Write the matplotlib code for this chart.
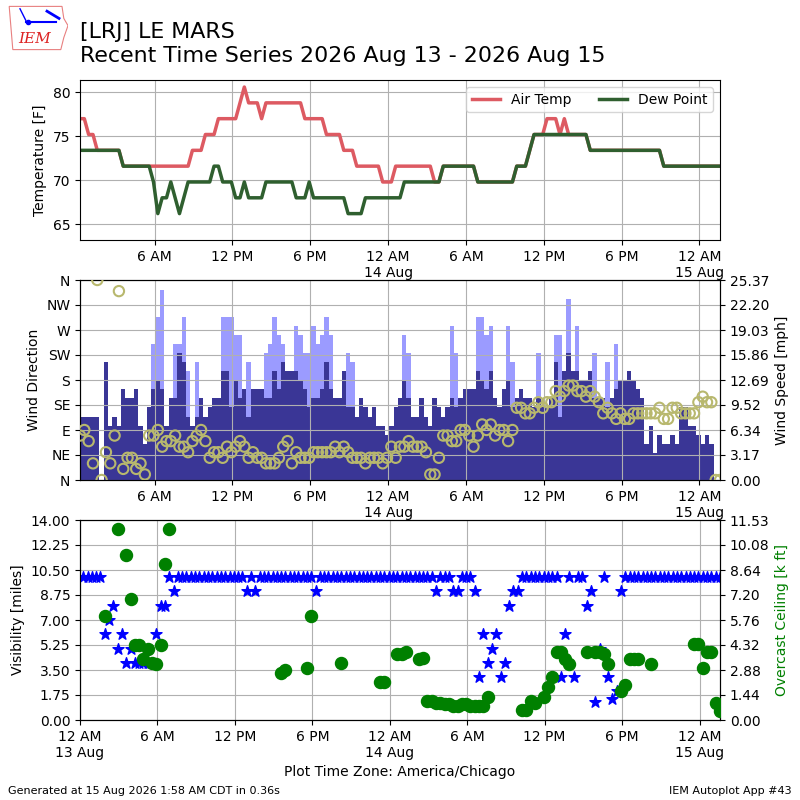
import numpy as np
import pandas as pd
import matplotlib
matplotlib.use("Agg")
import matplotlib.pyplot as plt
import matplotlib.dates as mdates
from matplotlib.ticker import FuncFormatter
from matplotlib.patches import Polygon

# observations every 20 minutes (local time, America/Chicago)
obs_start = "2026-08-13 00:15"
obs_count = 149
valid = pd.date_range(obs_start, periods=obs_count, freq="20min")

# air temperature [F]
tmpf = [77, 77, 75.2, 75.2, 73.4, 73.4, 73.4, 73.4, 73.4, 73.4, 71.6, 71.6,
        71.6, 71.6, 71.6, 71.6, 71.6, 71.6, 71.6, 71.6, 71.6, 71.6, 71.6, 71.6,
        71.6, 71.6, 73.4, 73.4, 73.4, 75.2, 75.2, 75.2, 77, 77, 77, 77,
        77, 78.8, 80.6, 78.8, 78.8, 78.8, 77, 78.8, 78.8, 78.8, 78.8, 78.8,
        78.8, 78.8, 78.8, 78.8, 77, 77, 77, 77, 77, 75.2, 75.2, 75.2,
        75.2, 73.4, 73.4, 73.4, 71.6, 71.6, 71.6, 71.6, 71.6, 71.6, 69.8, 69.8,
        69.8, 71.6, 71.6, 71.6, 71.6, 71.6, 71.6, 71.6, 71.6, 71.6, 69.8, 69.8,
        71.6, 71.6, 71.6, 71.6, 71.6, 71.6, 71.6, 71.6, 69.8, 69.8, 69.8, 69.8,
        69.8, 69.8, 69.8, 69.8, 69.8, 71.6, 71.6, 71.6, 73.4, 75.2, 75.2, 75.2,
        77, 77, 77, 75.2, 77, 75.2, 75.2, 75.2, 75.2, 75.2, 73.4, 73.4,
        73.4, 73.4, 73.4, 73.4, 73.4, 73.4, 73.4, 73.4, 73.4, 73.4, 73.4, 73.4,
        73.4, 73.4, 73.4, 71.6, 71.6, 71.6, 71.6, 71.6, 71.6, 71.6, 71.6, 71.6,
        71.6, 71.6, 71.6, 71.6, 71.6]

# dew point [F]
dwpf = [73.4, 73.4, 73.4, 73.4, 73.4, 73.4, 73.4, 73.4, 73.4, 73.4, 71.6, 71.6,
        71.6, 71.6, 71.6, 71.6, 71.6, 69.8, 66.2, 68, 68, 69.8, 68, 66.2,
        68, 69.8, 69.8, 69.8, 69.8, 69.8, 69.8, 71.6, 71.6, 69.8, 69.8, 69.8,
        68, 68, 69.8, 68, 68, 68, 68, 69.8, 69.8, 69.8, 69.8, 69.8,
        69.8, 69.8, 68, 68, 68, 69.8, 68, 68, 68, 68, 68, 68,
        68, 68, 66.2, 66.2, 66.2, 66.2, 68, 68, 68, 68, 68, 68,
        68, 68, 68, 69.8, 69.8, 69.8, 69.8, 69.8, 69.8, 69.8, 69.8, 69.8,
        71.6, 71.6, 71.6, 71.6, 71.6, 71.6, 71.6, 71.6, 69.8, 69.8, 69.8, 69.8,
        69.8, 69.8, 69.8, 69.8, 69.8, 71.6, 71.6, 71.6, 73.4, 75.2, 75.2, 75.2,
        75.2, 75.2, 75.2, 75.2, 75.2, 75.2, 75.2, 75.2, 75.2, 75.2, 73.4, 73.4,
        73.4, 73.4, 73.4, 73.4, 73.4, 73.4, 73.4, 73.4, 73.4, 73.4, 73.4, 73.4,
        73.4, 73.4, 73.4, 71.6, 71.6, 71.6, 71.6, 71.6, 71.6, 71.6, 71.6, 71.6,
        71.6, 71.6, 71.6, 71.6, 71.6]

# wind speed [kt]
sknt = [7, 7, 7, 7, 7, 0, 13, 6, 7, 6, 10, 9,
        9, 10, 6, 4, 8, 10, 11, 10, 6, 9, 9, 14,
        13, 7, 6, 7, 9, 7, 8, 9, 9, 12, 12, 8,
        11, 9, 10, 7, 10, 10, 10, 9, 9, 12, 10, 13,
        12, 12, 12, 11, 10, 8, 9, 9, 10, 13, 10, 9,
        9, 12, 8, 8, 7, 9, 8, 7, 8, 6, 6, 5,
        6, 8, 9, 11, 9, 7, 7, 9, 7, 6, 9, 8,
        7, 8, 9, 8, 9, 10, 10, 10, 12, 11, 10, 12,
        9, 8, 10, 11, 8, 9, 10, 9, 9, 8, 9, 8,
        8, 9, 13, 7, 12, 14, 12, 12, 11, 11, 12, 9,
        9, 9, 8, 9, 10, 11, 11, 12, 11, 10, 9, 4,
        6, 3, 5, 4, 4, 5, 4, 8, 8, 6, 6, 5,
        4, 5, 4, 0, 0]

# wind gust [kt], 0 = no gust reported
gust = [0, 0, 0, 0, 0, 0, 0, 0, 0, 0, 0, 0,
        0, 0, 0, 0, 0, 15, 18, 21, 0, 0, 15, 15,
        18, 12, 0, 13, 0, 0, 0, 0, 0, 18, 18, 18,
        16, 16, 0, 13, 0, 0, 0, 14, 15, 18, 16, 15,
        0, 0, 17, 16, 14, 14, 17, 15, 16, 18, 16, 0,
        0, 0, 14, 13, 0, 0, 0, 0, 0, 0, 0, 0,
        0, 0, 0, 16, 14, 0, 0, 0, 0, 0, 0, 0,
        0, 0, 17, 14, 0, 0, 0, 0, 18, 18, 16, 17,
        0, 0, 0, 17, 13, 0, 0, 0, 0, 0, 14, 0,
        0, 0, 16, 16, 0, 20, 0, 17, 0, 0, 0, 14,
        0, 0, 13, 0, 15, 0, 0, 0, 0, 0, 0, 0,
        0, 0, 0, 0, 0, 0, 0, 0, 0, 0, 0, 0,
        0, 0, 0, 0, 0]

# wind direction [deg]
drct = [80, 90, 70, 30, 360, 0, 50, 30, 80, 340, 20, 40,
        40, 20, 30, 10, 80, 80, 90, 60, 70, 70, 80, 60,
        60, 50, 70, 80, 90, 70, 40, 50, 50, 40, 60, 50,
        60, 70, 60, 40, 50, 40, 40, 30, 30, 30, 40, 60,
        70, 30, 50, 40, 40, 40, 50, 50, 50, 50, 50, 60,
        50, 60, 50, 40, 40, 40, 30, 40, 40, 40, 30, 40,
        60, 40, 60, 60, 70, 60, 60, 60, 50, 10, 10, 40,
        80, 80, 70, 70, 90, 90, 80, 60, 80, 100, 90, 100,
        80, 90, 90, 70, 90, 130, 130, 120, 120, 130, 140, 130,
        140, 140, 160, 150, 160, 170, 170, 160, 160, 150, 160, 150,
        140, 120, 130, 120, 110, 120, 110, 110, 120, 120, 120, 120,
        120, 120, 130, 110, 110, 130, 130, 120, 120, 120, 120, 140,
        150, 140, 140, 0, 0]

# visibility [miles]
vsby = [10, 10, 10, 10, 10, 6, 7, 8, 5, 6, 4, 5,
        4, 4, 4, 4, 4, 6, 8, 8, 10, 9, 10, 10,
        10, 10, 10, 10, 10, 10, 10, 10, 10, 10, 10, 10,
        10, 10, 9, 10, 9, 10, 10, 10, 10, 10, 10, 10,
        10, 10, 10, 10, 10, 10, 9, 10, 10, 10, 10, 10,
        10, 10, 10, 10, 10, 10, 10, 10, 10, 10, 10, 10,
        10, 10, 10, 10, 10, 10, 10, 10, 10, 10, 9, 10,
        10, 10, 9, 9, 10, 10, 10, 9, 3, 6, 4, 5,
        6, 3, 4, 8, 9, 9, 10, 10, 10, 10, 10, 10,
        10, 10, 10, 3, 6, 10, 3, 10, 10, 8, 9, 1.25,
        5, 10, 3, 1.5, 2, 9, 10, 10, 10, 10, 10, 10,
        10, 10, 10, 10, 10, 10, 10, 10, 10, 10, 10, 10,
        10, 10, 10, 10, 10]

# overcast ceiling [k ft], None = no overcast layer
ceil = [None, None, None, None, None, 6.0, None, None, 11.0, None, 9.5, 7.0,
        4.3, 4.3, 3.5, 4.1, 3.3, 3.2, 4.3, 9.0, 11.0, None, None, None,
        None, None, None, None, None, None, None, None, None, None, None, None,
        None, None, None, None, None, None, None, None, None, None, 2.7, 2.9,
        None, None, None, None, 3.0, 6.0, None, None, None, None, None, None,
        3.3, None, None, None, None, None, None, None, None, 2.2, 2.2, None,
        None, 3.8, 3.8, 3.9, None, None, 3.5, 3.6, 1.1, 1.1, 1.0, 1.0,
        0.9, 0.9, 0.8, 0.8, 0.9, 0.9, 0.8, 0.8, 0.8, 0.8, 1.3, None,
        None, None, None, None, None, None, 0.6, 0.6, 1.1, 1.0, None, 1.3,
        1.9, 2.5, 3.9, 3.9, 3.5, 3.2, None, None, None, 3.9, None, 3.9,
        3.9, 3.8, 3.2, None, None, 1.7, 2.0, 3.5, 3.5, 3.5, None, None,
        3.2, None, None, None, None, None, None, None, None, None, 4.4, 4.4,
        3.0, 3.9, 3.9, 1.0, 0.5]

dir_labels = ["N", "NE", "E", "SE", "S", "SW", "W", "NW", "N"]

KT2MPH = 1.15078
smph = np.array(sknt) * KT2MPH
gmph = np.array(gust, dtype=float) * KT2MPH
gmph[gmph == 0] = np.nan
ceil_arr = np.array([np.nan if c is None else c for c in ceil])

SPD_MAX = 25.3744
CEIL_MAX = 11.5256


def time_fmt(x, pos=None):
    d = mdates.num2date(x)
    h = d.hour % 12 or 12
    s = "%d %s" % (h, "AM" if d.hour < 12 else "PM")
    if d.hour == 0:
        s += "\n%d %s" % (d.day, d.strftime("%b"))
    return s


def setup_time(ax):
    ax.xaxis.set_major_locator(mdates.HourLocator(byhour=[0, 6, 12, 18]))
    ax.xaxis.set_major_formatter(FuncFormatter(time_fmt))
    ax.grid(True)


two_dec = FuncFormatter(lambda v, p: "%.2f" % v)

fig = plt.figure(figsize=(8, 8), dpi=100)

# title + logo
fig.text(0.1, 0.973, "[LRJ] LE MARS\nRecent Time Series 2026 Aug 13 - 2026 Aug 15",
         fontsize=15.9, va="top", ha="left", linespacing=1.3)
lax = fig.add_axes([0.01, 0.935, 0.075, 0.06])
lax.add_patch(Polygon([[0.02, 0.95], [0.9, 0.95], [0.93, 0.7], [1.0, 0.55],
                       [0.93, 0.3], [0.88, 0.05], [0.08, 0.05], [0.05, 0.5]],
                      closed=True, fill=False, ec="#e88080", lw=0.8))
lax.plot([0.3, 0.8], [0.62, 0.62], color="blue", lw=1.5)
lax.plot([0.33], [0.62], "o", color="blue", ms=3)
lax.plot([0.2, 0.3], [0.9, 0.65], color="blue", lw=1)
lax.plot([0.65, 0.85], [0.85, 0.7], color="blue", lw=2)
lax.text(0.45, 0.28, "IEM", color="#dd2222", fontsize=11, family="DejaVu Serif",
         style="italic", ha="center", va="center")
lax.set_xlim(0, 1)
lax.set_ylim(0, 1)
lax.axis("off")

# temperature panel
ax1 = fig.add_axes([0.1, 0.7, 0.8, 0.2])
ax1.plot(valid, tmpf, color="#dd5a62", lw=2.5, label="Air Temp")
ax1.plot(valid, dwpf, color="#2f5f2f", lw=2.5, label="Dew Point")
ax1.set_ylabel("Temperature [F]")
ax1.set_ylim(63.2, 81.4)
setup_time(ax1)
ax1.set_xlim(valid[0], valid[-1])
ax1.legend(loc="upper right", ncol=2, fontsize=10)

# wind panel: bars on the speed axis (right), circles on the direction axis (left)
ax2 = fig.add_axes([0.1, 0.4, 0.8, 0.25])
w = 20.0 / 1440.0
ax2.bar(valid, gmph, width=w, color="#9b9bff", ec="none")
ax2.bar(valid, smph, width=w, color="#3a3696", ec="none")
setup_time(ax2)
ax2b = ax2.twinx()
ax2b.scatter(valid, drct, s=55, facecolor="none", edgecolor="#b8b86e", lw=1.5, zorder=3)
ax2b.set_ylim(0, 360)
ax2b.set_yticks(np.arange(0, 361, 45))
ax2b.set_yticklabels(dir_labels)
ax2b.yaxis.tick_left()
ax2b.yaxis.set_label_position("left")
ax2b.set_ylabel("Wind Direction")
ax2.set_ylim(0, SPD_MAX)
ax2.set_yticks(np.linspace(0, SPD_MAX, 9))
ax2.yaxis.set_major_formatter(two_dec)
ax2.yaxis.tick_right()
ax2.yaxis.set_label_position("right")
ax2.set_ylabel("Wind Speed [mph]")
ax2.set_xlim(valid[0], valid[-1])

# visibility / ceiling panel
ax3 = fig.add_axes([0.1, 0.1, 0.8, 0.25])
ax3.scatter(valid, vsby, marker="*", color="blue", s=70, zorder=3)
ax3.set_ylim(0, 14)
ax3.set_yticks(np.linspace(0, 14, 9))
ax3.yaxis.set_major_formatter(two_dec)
ax3.set_ylabel("Visibility [miles]")
ax3.set_xlabel("Plot Time Zone: America/Chicago")
setup_time(ax3)
ax3b = ax3.twinx()
ax3b.scatter(valid, ceil_arr, marker="o", color="green", s=75, zorder=3)
ax3b.set_ylim(0, CEIL_MAX)
ax3b.set_yticks(np.linspace(0, CEIL_MAX, 9))
ax3b.yaxis.set_major_formatter(two_dec)
ax3b.set_ylabel("Overcast Ceiling [k ft]", color="green")
ax3.set_xlim(pd.Timestamp("2026-08-13 00:00"), valid[-1])

fig.text(0.01, 0.008, "Generated at 15 Aug 2026 1:58 AM CDT in 0.36s", fontsize=8)
fig.text(0.99, 0.008, "IEM Autoplot App #43", fontsize=8, ha="right")

fig.savefig("out.png", dpi=100)
